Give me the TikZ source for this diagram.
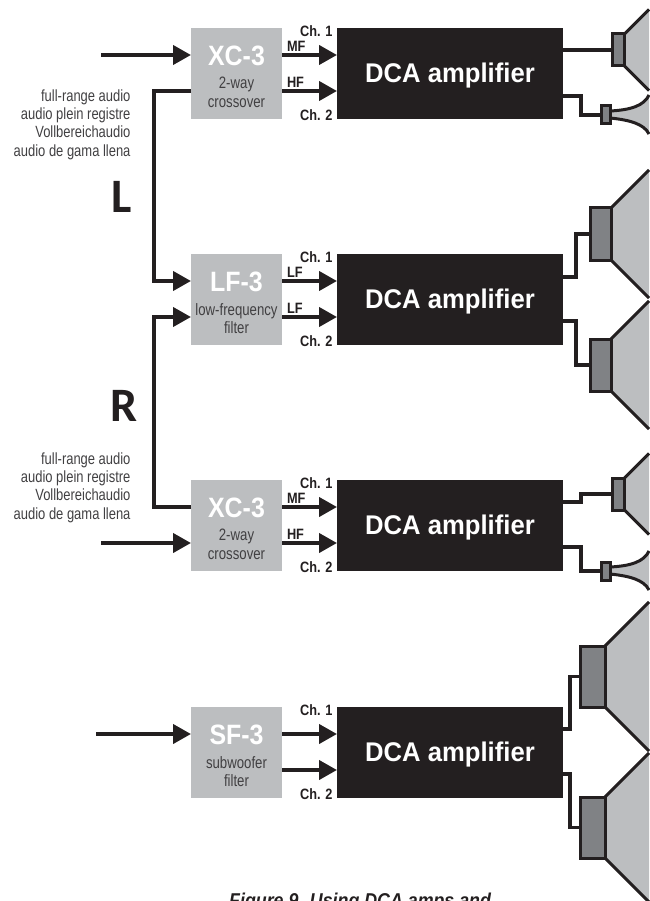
\documentclass[tikz,border=0pt]{standalone}
\usepackage{fontspec}
\setmainfont{Carlito}
\newfontfamily\ampfont{Liberation Sans}[FakeStretch=0.95]
\newfontfamily\capfont{Liberation Sans}[FakeStretch=0.89]
\newfontfamily\narrowfont{Liberation Sans}[FakeStretch=0.8]
\newfontfamily\chfont{Liberation Sans}[FakeStretch=0.85]
\newfontfamily\modelfont{Liberation Sans}[FakeStretch=0.89]
\usetikzlibrary{arrows.meta}
\definecolor{inkblack}{HTML}{231F20}
\definecolor{boxgray}{HTML}{BCBEC0}
\definecolor{magnetgray}{HTML}{808285}
\definecolor{labelgray}{HTML}{414042}
\tikzset{
	signal/.style={line width=4pt, draw=inkblack, -{Triangle[length=18pt,width=19pt]}},
	wire/.style={line width=3.2pt, draw=inkblack, line join=miter},
	rim/.style={line width=3pt, draw=inkblack},
	filterbox/.style={fill=boxgray, minimum width=91pt, minimum height=91pt, inner sep=0pt},
	ampbox/.style={fill=inkblack, text=white, minimum width=226pt, minimum height=91pt, inner sep=0pt, text depth=1.5pt,
		font=\ampfont\bfseries\fontsize{27}{30}\selectfont},
	magnet/.style={fill=magnetgray, rim, inner sep=0pt},
	modeltext/.style={text=white, font=\modelfont\bfseries\fontsize{28}{30}\selectfont},
	subtext/.style={text=labelgray, align=center, font=\narrowfont\fontsize{16.5}{18.5}\selectfont},
	sidetext/.style={text=labelgray, anchor=east, align=right, font=\narrowfont\fontsize{16.2}{18.3}\selectfont},
	chtext/.style={text=inkblack, font=\chfont\bfseries\fontsize{15}{17}\selectfont},
	sidemark/.style={text=inkblack, font=\fontsize{48}{50}\selectfont\bfseries},
}
\begin{document}
\begin{tikzpicture}[x=1pt, y=-1pt]
	\useasboundingbox (0,0) rectangle (649,901);
	% amplifier rows: top / filter name / first line / second line / band 1 / band 2
	\foreach \top/\model/\subone/\subtwo/\bandone/\bandtwo [count=\index] in
		{28/XC-3/2-way/crossover/MF/HF,
		 254/LF-3/low-frequency/filter/LF/LF,
		 480/XC-3/2-way/crossover/MF/HF,
		 707/SF-3/subwoofer/filter//}
	{
		\node[filterbox] (f_\index) at (236.5,\top+45.5) {};
		\node[ampbox] (a_\index) at (450,\top+45.5) {DCA amplifier};
		\node[modeltext] (m_\index) at (236.5,\top+28) {\model};
		\node[subtext] (s_\index) at (236.5,\top+64.5) {\subone\\\subtwo};
		\node[chtext, anchor=east] (c_\index_1) at (336,\top+3) {Ch. 1};
		\node[chtext, anchor=east] (c_\index_2) at (336,\top+87.5) {Ch. 2};
		\node[chtext, anchor=west] (b_\index_1) at (283.5,\top+18) {\bandone};
		\node[chtext, anchor=west] (b_\index_2) at (283.5,\top+54) {\bandtwo};
		% ports
		\coordinate (in_\index_1) at (191,\top+27);
		\coordinate (in_\index_2) at (191,\top+63);
		\coordinate (out_\index_1) at (282,\top+27);
		\coordinate (out_\index_2) at (282,\top+63);
		\coordinate (amp_\index_1) at (337,\top+27);
		\coordinate (amp_\index_2) at (337,\top+63);
		\draw[signal] (out_\index_1) -- (amp_\index_1);
		\draw[signal] (out_\index_2) -- (amp_\index_2);
	}
	% inputs
	\coordinate (src_1) at (101,55);
	\coordinate (src_3) at (101,543);
	\coordinate (src_4) at (96,734);
	\draw[signal] (src_1) -- (in_1_1);
	\draw[signal] (src_3) -- (in_3_2);
	\draw[signal] (src_4) -- (in_4_1);
	% left and right links
	\draw[signal] (in_1_2) -- (154,91) -- (154,281) -- (in_2_1);
	\draw[signal] (in_3_1) -- (154,507) -- (154,317) -- (in_2_2);
	% side labels
	\node[sidemark] (lbl_l) at (122,197) {L};
	\node[sidemark] (lbl_r) at (124,405.5) {R};
	\node[sidetext] (txt_1) at (134,124.5) {full-range audio\\audio plein registre\\Vollbereichaudio\\audio de gama llena};
	\node[sidetext] (txt_2) at (134,487.5) {full-range audio\\audio plein registre\\Vollbereichaudio\\audio de gama llena};
	% cone speakers: name / magnet left / magnet right / top / bottom
	\foreach \name/\xa/\xb/\ya/\yb in
		{w_1/612/624.5/34/66,
		 w_2/590/611/208/260,
		 w_3/590/611/339/391,
		 w_4/612/624.5/478/510,
		 w_5/580/605/646/707,
		 w_6/580/605/797/858}
	{
		\fill[boxgray] (\xb,\ya) -- (649,{\ya-(649-\xb)}) -- (649,{\yb+(649-\xb)}) -- (\xb,\yb) -- cycle;
		\draw[rim] (649,{\ya-(649-\xb)}) -- (\xb,\ya);
		\draw[rim] (649,{\yb+(649-\xb)}) -- (\xb,\yb);
		\node[magnet, minimum width=\xb pt-\xa pt, minimum height=\yb pt-\ya pt] (\name) at ({(\xa+\xb)/2},{(\ya+\yb)/2}) {};
	}
	% horn speakers
	\foreach \name/\ymid in {t_1/115, t_2/571}
	{
		\fill[boxgray] (610,\ymid-4) .. controls (630,\ymid-5) and (644,\ymid-9) .. (649,\ymid-20)
			-- (649,\ymid+19) .. controls (644,\ymid+9) and (630,\ymid+5) .. (610,\ymid+3) -- cycle;
		\draw[rim] (610,\ymid-4) .. controls (630,\ymid-5) and (644,\ymid-9) .. (649,\ymid-20);
		\draw[rim] (610,\ymid+3) .. controls (630,\ymid+5) and (644,\ymid+9) .. (649,\ymid+19);
		\node[magnet, minimum width=9pt, minimum height=18pt] (\name) at (605.5,\ymid) {};
	}
	% wires
	\coordinate (o_1) at (563,50);
	\coordinate (o_2) at (563,96);
	\coordinate (o_3) at (563,277);
	\coordinate (o_4) at (563,321);
	\coordinate (o_5) at (563,502);
	\coordinate (o_6) at (563,547);
	\coordinate (o_7) at (563,729);
	\coordinate (o_8) at (563,774);
	\draw[wire] (o_1) -- (w_1);
	\draw[wire] (o_2) -- (581,96) |- (t_1);
	\draw[wire] (o_3) -- (576,277) |- (w_2);
	\draw[wire] (o_4) -- (576,321) |- (w_3);
	\draw[wire] (o_5) -- (581,502) |- (w_4);
	\draw[wire] (o_6) -- (581,547) |- (t_2);
	\draw[wire] (o_7) -- (570,729) |- (w_5);
	\draw[wire] (o_8) -- (570,774) |- (w_6);
	% caption
	\node[text=inkblack, anchor=base west, inner sep=0pt, font=\capfont\bfseries\itshape\fontsize{20}{22}\selectfont] (caption) at (229,907) {Figure 9. Using DCA amps and};
\end{tikzpicture}
\end{document}
